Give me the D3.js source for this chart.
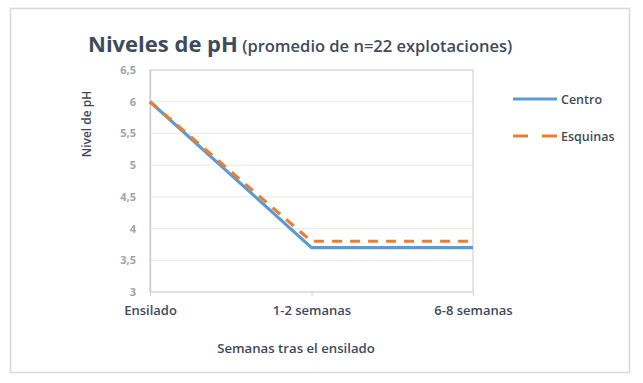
<!DOCTYPE html>
<html><head><meta charset="utf-8">
<script src="https://cdn.jsdelivr.net/npm/d3@7"></script>
<style>body{margin:0;background:#fff}svg{display:block}text{font-family:"Open Sans","Noto Sans",sans-serif}</style>
</head><body><svg id="c" width="643" height="383"></svg>
<script>
const categories = ["Ensilado", "1-2 semanas", "6-8 semanas"];
const centro = [6, 3.7, 3.7];
const esquinas = [6, 3.8, 3.8];
const yTicks = [3, 3.5, 4, 4.5, 5, 5.5, 6, 6.5];
const seriesNames = ["Centro", "Esquinas"];
const colors = ["#5b9bd5", "#ed7d31"];

const svg = d3.select("#c");
const dark = "#3f4a5c";
svg.append("rect").attr("x",10.5).attr("y",8.5).attr("width",619).attr("height",364)
  .attr("fill","#fff").attr("stroke","#d9d9d9").attr("stroke-width",1.5);

const L=150, R=473, T=70, B=292;
const x = d3.scalePoint().domain(categories).range([L,R]);
const y = d3.scaleLinear().domain([3,6.5]).range([B,T]);

svg.append("g").selectAll("line").data(yTicks).join("line")
  .attr("x1",L).attr("x2",R).attr("y1",d=>y(d)).attr("y2",d=>y(d))
  .attr("stroke","#e9e9e9").attr("stroke-width",1);
svg.append("rect").attr("x",L).attr("y",T).attr("width",R-L).attr("height",B-T)
  .attr("fill","none").attr("stroke","#d4d4d4").attr("stroke-width",1.2);

const ya = svg.append("g").attr("transform",`translate(${L},0)`)
  .call(d3.axisLeft(y).tickValues(yTicks).tickSize(0).tickPadding(14)
    .tickFormat(d=>String(d).replace(".",",")));
ya.select(".domain").attr("stroke","#cfcfcf").attr("stroke-width",1.5);
ya.selectAll("text").attr("fill","#a0a3a8").attr("font-size",11).attr("font-weight",700);

const xa = svg.append("g").attr("transform",`translate(0,${B})`)
  .call(d3.axisBottom(x).tickSize(4).tickPadding(10));
xa.select(".domain").remove();
xa.selectAll("line").attr("stroke","#d4d4d4");
xa.selectAll("text").attr("fill",dark).attr("font-size",13).attr("font-weight",600);

const line = d3.line().x((d,i)=>x(categories[i])).y(d=>y(d));
svg.append("path").datum(centro).attr("d",line).attr("fill","none")
  .attr("stroke",colors[0]).attr("stroke-width",3.2);
svg.append("path").datum(esquinas).attr("d",line).attr("fill","none")
  .attr("stroke",colors[1]).attr("stroke-width",3.2).attr("stroke-dasharray","10,8");

const t = svg.append("text").attr("x",88).attr("y",52).attr("fill",dark);
t.append("tspan").text("Niveles de pH").attr("font-size",22).attr("font-weight",700);
t.append("tspan").text(" (promedio de n=22 explotaciones)").attr("font-size",16.5).attr("font-weight",600);

svg.append("text").attr("transform","translate(91,124) rotate(-90)").attr("text-anchor","middle")
  .attr("fill",dark).attr("font-size",12).attr("font-weight",600).text("Nivel de pH");
svg.append("text").attr("x",296).attr("y",353).attr("text-anchor","middle")
  .attr("fill",dark).attr("font-size",13.2).attr("font-weight",600).text("Semanas tras el ensilado");

const lg = svg.append("g");
seriesNames.forEach((n,i)=>{
  const yy = 99 + i*37;
  lg.append("line").attr("x1",513).attr("x2",557).attr("y1",yy).attr("y2",yy)
    .attr("stroke",colors[i]).attr("stroke-width",3.2)
    .attr("stroke-dasharray", i===1 ? "15,14" : null);
  lg.append("text").attr("x",561).attr("y",yy+4.5).attr("fill",dark)
    .attr("font-size",12.5).attr("font-weight",600).text(n);
});
</script></body></html>
